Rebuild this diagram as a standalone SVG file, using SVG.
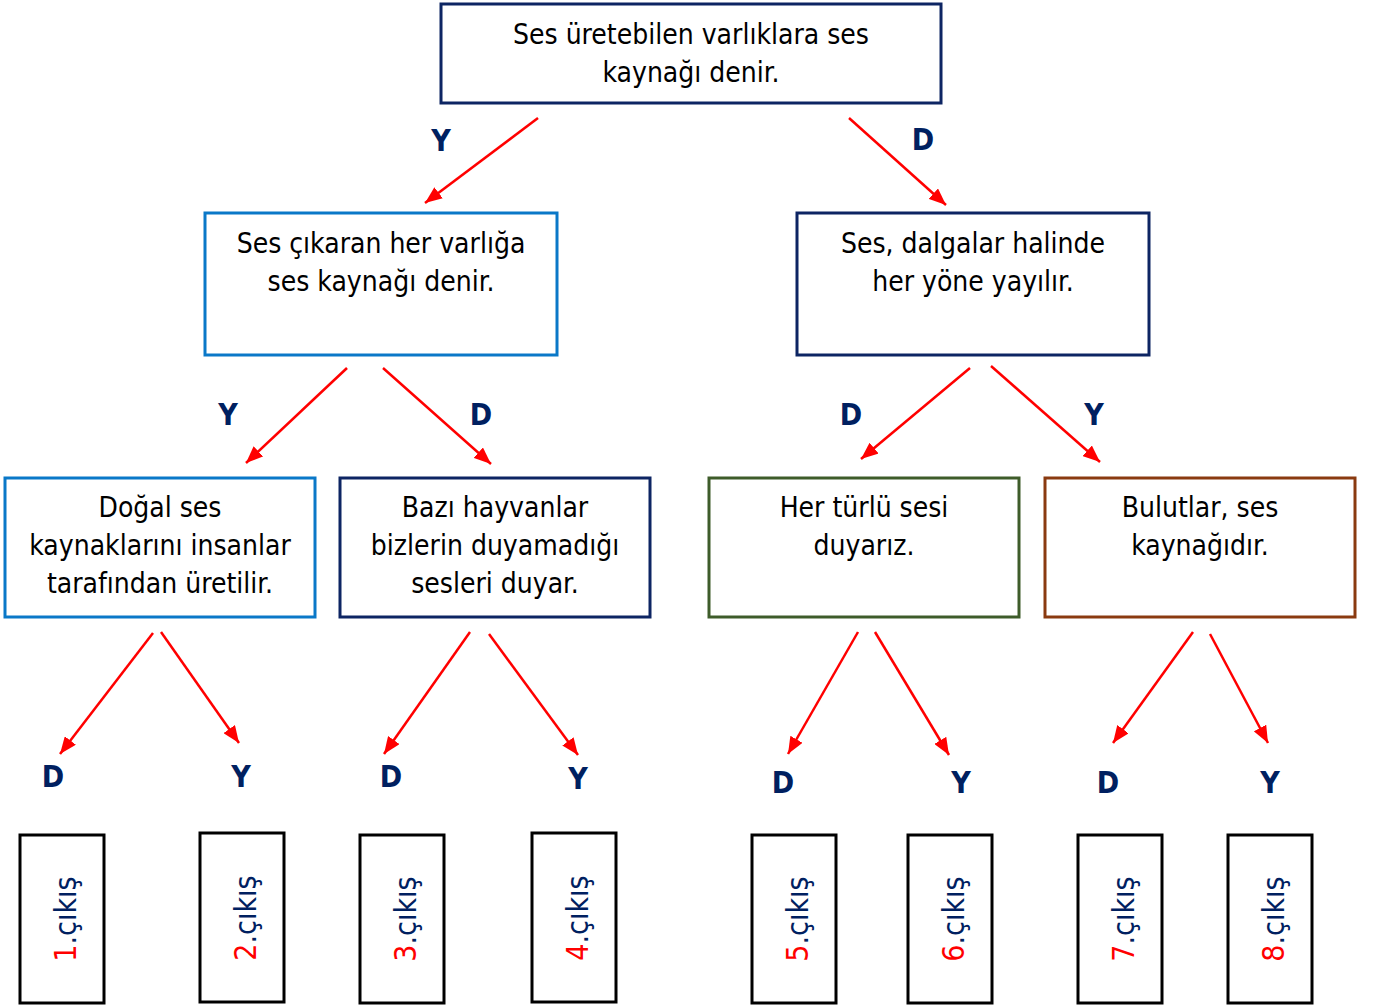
<svg xmlns="http://www.w3.org/2000/svg" width="1374" height="1005" viewBox="0 0 1374 1005">
<style>
.bg{fill:#ffffff}
.box{fill:#ffffff;stroke-width:3}
.navy{stroke:#0D2563}
.blue{stroke:#0A78C8}
.green{stroke:#3E5C2A}
.brown{stroke:#8A3A10}
.out{fill:#ffffff;stroke:#000000;stroke-width:3}
.t{font-family:"DejaVu Sans Condensed","DejaVu Sans",sans-serif;font-stretch:condensed;font-size:28px;fill:#000000;text-anchor:middle}
.lbl{font-family:"DejaVu Sans Condensed","DejaVu Sans",sans-serif;font-stretch:condensed;font-weight:bold;font-size:30px;fill:#002060;text-anchor:middle}
.ot{font-family:"DejaVu Sans Condensed","DejaVu Sans",sans-serif;font-stretch:condensed;font-size:30px;fill:#002060;text-anchor:middle}
.num{fill:#FF0000}
.arr{stroke:#FF0000;stroke-width:2.5;fill:none;marker-end:url(#ah)}
</style>
<defs>
<marker id="ah" markerUnits="userSpaceOnUse" markerWidth="18" markerHeight="14" refX="17" refY="7" orient="auto">
<path d="M0,0 L17,7 L0,14 z" fill="#FF0000"/>
</marker>
</defs>
<rect class="bg" x="0" y="0" width="1374" height="1005"/>

<g id="connectors">
<line class="arr" x1="538" y1="118" x2="425" y2="203"/>
<line class="arr" x1="849" y1="118" x2="946" y2="205"/>
<line class="arr" x1="347" y1="368" x2="246" y2="463"/>
<line class="arr" x1="383" y1="368" x2="491" y2="464"/>
<line class="arr" x1="970" y1="368" x2="861" y2="459"/>
<line class="arr" x1="991" y1="366" x2="1100" y2="462"/>
<line class="arr" x1="153" y1="633" x2="60" y2="754"/>
<line class="arr" x1="161" y1="632" x2="239" y2="743"/>
<line class="arr" x1="470" y1="632" x2="384" y2="754"/>
<line class="arr" x1="489" y1="634" x2="578" y2="755"/>
<line class="arr" x1="858" y1="632" x2="788" y2="754"/>
<line class="arr" x1="875" y1="632" x2="949" y2="755"/>
<line class="arr" x1="1193" y1="632" x2="1113" y2="743"/>
<line class="arr" x1="1210" y1="634" x2="1268" y2="743"/>
</g>

<g id="labels">
<text class="lbl" x="441" y="151">Y</text>
<text class="lbl" x="923" y="150">D</text>
<text class="lbl" x="228" y="425">Y</text>
<text class="lbl" x="481" y="425">D</text>
<text class="lbl" x="851" y="425">D</text>
<text class="lbl" x="1094" y="425">Y</text>
<text class="lbl" x="53" y="787">D</text>
<text class="lbl" x="241" y="787">Y</text>
<text class="lbl" x="391" y="787">D</text>
<text class="lbl" x="578" y="789">Y</text>
<text class="lbl" x="783" y="793">D</text>
<text class="lbl" x="961" y="793">Y</text>
<text class="lbl" x="1108" y="793">D</text>
<text class="lbl" x="1270" y="793">Y</text>
</g>

<g id="n0">
<rect class="box navy" x="441" y="4" width="500" height="99"/>
<text class="t" x="691" y="44">Ses üretebilen varlıklara ses</text>
<text class="t" x="691" y="82">kaynağı denir.</text>
</g>
<g id="n1">
<rect class="box blue" x="205" y="213" width="352" height="142"/>
<text class="t" x="381" y="253">Ses çıkaran her varlığa</text>
<text class="t" x="381" y="291">ses kaynağı denir.</text>
</g>
<g id="n2">
<rect class="box navy" x="797" y="213" width="352" height="142"/>
<text class="t" x="973" y="253">Ses, dalgalar halinde</text>
<text class="t" x="973" y="291">her yöne yayılır.</text>
</g>
<g id="n3">
<rect class="box blue" x="5" y="478" width="310" height="139"/>
<text class="t" x="160" y="517">Doğal ses</text>
<text class="t" x="160" y="555">kaynaklarını insanlar</text>
<text class="t" x="160" y="593">tarafından üretilir.</text>
</g>
<g id="n4">
<rect class="box navy" x="340" y="478" width="310" height="139"/>
<text class="t" x="495" y="517">Bazı hayvanlar</text>
<text class="t" x="495" y="555">bizlerin duyamadığı</text>
<text class="t" x="495" y="593">sesleri duyar.</text>
</g>
<g id="n5">
<rect class="box green" x="709" y="478" width="310" height="139"/>
<text class="t" x="864" y="517">Her türlü sesi</text>
<text class="t" x="864" y="555">duyarız.</text>
</g>
<g id="n6">
<rect class="box brown" x="1045" y="478" width="310" height="139"/>
<text class="t" x="1200" y="517">Bulutlar, ses</text>
<text class="t" x="1200" y="555">kaynağıdır.</text>
</g>

<g id="out1"><rect class="out" x="20" y="835" width="84" height="168"/><text class="ot" transform="translate(76,919) rotate(-90)"><tspan class="num">1</tspan>.çıkış</text></g>
<g id="out2"><rect class="out" x="200" y="833" width="84" height="169"/><text class="ot" transform="translate(256,918) rotate(-90)"><tspan class="num">2</tspan>.çıkış</text></g>
<g id="out3"><rect class="out" x="360" y="835" width="84" height="168"/><text class="ot" transform="translate(416,919) rotate(-90)"><tspan class="num">3</tspan>.çıkış</text></g>
<g id="out4"><rect class="out" x="532" y="833" width="84" height="169"/><text class="ot" transform="translate(588,918) rotate(-90)"><tspan class="num">4</tspan>.çıkış</text></g>
<g id="out5"><rect class="out" x="752" y="835" width="84" height="168"/><text class="ot" transform="translate(808,919) rotate(-90)"><tspan class="num">5</tspan>.çıkış</text></g>
<g id="out6"><rect class="out" x="908" y="835" width="84" height="168"/><text class="ot" transform="translate(964,919) rotate(-90)"><tspan class="num">6</tspan>.çıkış</text></g>
<g id="out7"><rect class="out" x="1078" y="835" width="84" height="168"/><text class="ot" transform="translate(1134,919) rotate(-90)"><tspan class="num">7</tspan>.çıkış</text></g>
<g id="out8"><rect class="out" x="1228" y="835" width="84" height="168"/><text class="ot" transform="translate(1284,919) rotate(-90)"><tspan class="num">8</tspan>.çıkış</text></g>
</svg>
